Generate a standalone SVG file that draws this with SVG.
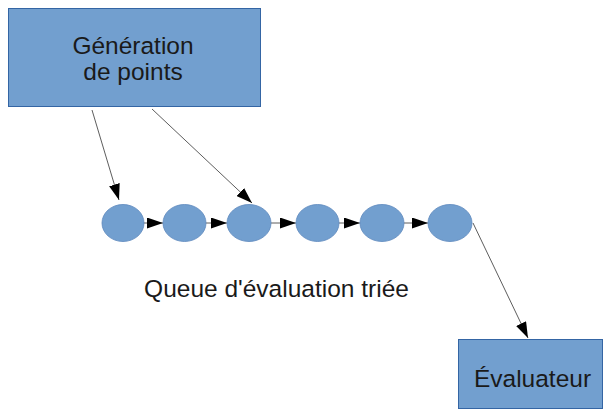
<svg xmlns="http://www.w3.org/2000/svg" width="604" height="410" viewBox="0 0 604 410">
<style>
.box{fill:#729fcf;stroke:#3465a4;stroke-width:1}
.node{fill:#729fcf;stroke:#5a87bd;stroke-width:0.8}
.lbl{font-family:"Liberation Sans",Arial,sans-serif;font-size:24.5px;fill:#1a1a1a;text-anchor:middle}
.edge{stroke:#333;stroke-width:0.8;fill:none;marker-end:url(#ah)}
</style>
<defs>
<marker id="ah" markerWidth="16" markerHeight="11" refX="16" refY="5.5" orient="auto" markerUnits="userSpaceOnUse">
<path d="M0,0 L16,5.5 L0,11 Z" fill="#000"/>
</marker>
</defs>
<rect width="604" height="410" fill="#fff"/>
<g id="connectors">
<line class="edge" x1="92" y1="110" x2="119" y2="200"/>
<line class="edge" x1="152" y1="109" x2="252" y2="203"/>
<line class="edge" x1="141" y1="223" x2="163" y2="223"/>
<line class="edge" x1="206" y1="223" x2="227" y2="223"/>
<line class="edge" x1="271" y1="223" x2="296" y2="223"/>
<line class="edge" x1="339" y1="223" x2="360" y2="223"/>
<line class="edge" x1="404" y1="223" x2="428" y2="223"/>
<line class="edge" x1="473" y1="223" x2="528" y2="338"/>
</g>
<g id="generation">
<rect class="box" x="8.5" y="8.5" width="252" height="98"/>
<text class="lbl" x="133" y="54">Génération</text>
<text class="lbl" x="133" y="80">de points</text>
</g>
<g id="q1"><ellipse class="node" cx="123" cy="223" rx="21" ry="18.5"/></g>
<g id="q2"><ellipse class="node" cx="184.5" cy="223" rx="21.5" ry="18.5"/></g>
<g id="q3"><ellipse class="node" cx="249" cy="223" rx="22" ry="18.5"/></g>
<g id="q4"><ellipse class="node" cx="317.5" cy="223" rx="21.5" ry="18.5"/></g>
<g id="q5"><ellipse class="node" cx="382" cy="223" rx="22" ry="18.5"/></g>
<g id="q6"><ellipse class="node" cx="450" cy="223" rx="22" ry="18.5"/></g>
<g id="queue-label">
<text class="lbl" x="276.5" y="297">Queue d'évaluation triée</text>
</g>
<g id="evaluateur">
<rect class="box" x="458.5" y="339.5" width="144" height="69"/>
<text class="lbl" x="532.5" y="387">Évaluateur</text>
</g>
</svg>
